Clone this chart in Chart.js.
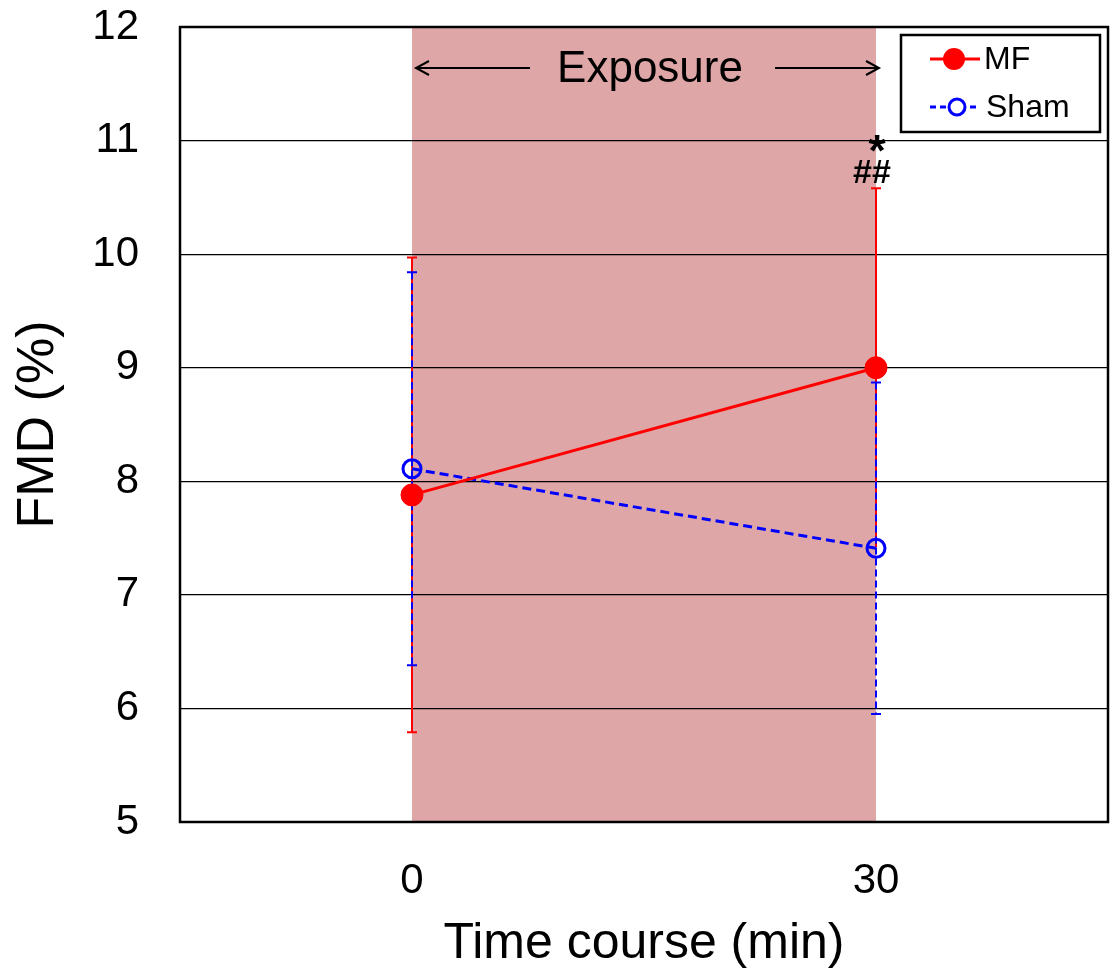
<!DOCTYPE html>
<html>
<head>
<meta charset="utf-8">
<script src="https://cdn.jsdelivr.net/npm/chart.js@4.4.0/dist/chart.umd.min.js"></script>
<style>
  html, body { margin: 0; padding: 0; background: #fff; overflow: hidden; }
  #wrap { width: 1111px; height: 974px; overflow: hidden; }
</style>
</head>
<body>
<div id="wrap"><canvas id="fmdChart" width="1120" height="974"></canvas></div>
<script>
// values
const timePoints = [0, 30];
const xTickValues = [0, 30];
const yTickValues = [5, 6, 7, 8, 9, 10, 11, 12];
const mfMean = [7.88, 9.0];
const mfSD = [2.09, 1.58];
const shamMean = [8.11, 7.41];
const shamSD = [1.73, 1.46];
const exposureStart = 0;
const exposureEnd = 30;

const FONT = '"Liberation Sans", Arial, sans-serif';

function toPoints(xs, ys) {
    return xs.map((x, i) => ({ x: x, y: ys[i] }));
}

// shaded exposure window, drawn before the grid so the grid lines stay on top
const shadePlugin = {
    id: 'shade',
    beforeDraw(chart) {
        const { ctx, chartArea, scales } = chart;
        const x0 = scales.x.getPixelForValue(exposureStart);
        const x1 = scales.x.getPixelForValue(exposureEnd);
        ctx.save();
        ctx.fillStyle = '#dea6a6';
        ctx.fillRect(x0, chartArea.top, x1 - x0, chartArea.bottom - chartArea.top);
        ctx.restore();
    }
};

// error bars: red solid first, blue dashed over it
const errorBarPlugin = {
    id: 'errorBars',
    beforeDatasetsDraw(chart) {
        const { ctx, scales } = chart;
        const groups = [
            { means: mfMean, sds: mfSD, color: '#ff0000', dash: [], caps: [[true, true], [true, false]] },
            { means: shamMean, sds: shamSD, color: '#0000ff', dash: [7, 4], caps: [[true, true], [true, true]] }
        ];
        groups.forEach(g => {
            timePoints.forEach((t, i) => {
                const px = scales.x.getPixelForValue(t);
                const top = scales.y.getPixelForValue(g.means[i] + g.sds[i]);
                const bot = scales.y.getPixelForValue(g.means[i] - g.sds[i]);
                ctx.save();
                ctx.strokeStyle = g.color;
                ctx.lineWidth = 2;
                ctx.setLineDash(g.dash);
                ctx.beginPath();
                ctx.moveTo(px, top);
                ctx.lineTo(px, bot);
                ctx.stroke();
                ctx.setLineDash([]);
                ctx.beginPath();
                if (g.caps[i][0]) { ctx.moveTo(px - 5, top); ctx.lineTo(px + 5, top); }
                if (g.caps[i][1]) { ctx.moveTo(px - 5, bot); ctx.lineTo(px + 5, bot); }
                ctx.stroke();
                ctx.restore();
            });
        });
    }
};

function arrow(ctx, xFrom, xTo, y) {
    const dir = Math.sign(xTo - xFrom);
    ctx.beginPath();
    ctx.moveTo(xFrom, y);
    ctx.lineTo(xTo, y);
    ctx.moveTo(xTo - dir * 13, y - 7);
    ctx.lineTo(xTo, y);
    ctx.lineTo(xTo - dir * 13, y + 7);
    ctx.stroke();
}

const overlayPlugin = {
    id: 'overlay',
    afterDraw(chart) {
        const { ctx, chartArea, scales } = chart;
        const x0 = scales.x.getPixelForValue(exposureStart);
        const x1 = scales.x.getPixelForValue(exposureEnd);
        ctx.save();

        // plot frame
        ctx.strokeStyle = '#000';
        ctx.lineWidth = 2.5;
        ctx.strokeRect(chartArea.left, chartArea.top, chartArea.right - chartArea.left, chartArea.bottom - chartArea.top);

        // Exposure label with arrows
        const ty = chartArea.top + 41;
        ctx.fillStyle = '#000';
        ctx.font = '44px ' + FONT;
        ctx.textAlign = 'center';
        ctx.textBaseline = 'middle';
        ctx.fillText('Exposure', 650, ty + 2);
        ctx.lineWidth = 2;
        arrow(ctx, 530, x0 + 4, ty);
        arrow(ctx, 775, x1 + 3, ty);

        // significance marks
        ctx.font = 'bold 44px ' + FONT;
        ctx.fillText('*', x1 + 1, scales.y.getPixelForValue(10.88));
        ctx.font = 'bold 34px ' + FONT;
        ctx.fillText('##', x1 - 4, scales.y.getPixelForValue(10.71));

        // legend box
        const lx = 901, ly = 35, lw = 199, lh = 97;
        ctx.fillStyle = '#fff';
        ctx.fillRect(lx, ly, lw, lh);
        ctx.lineWidth = 2.5;
        ctx.strokeRect(lx, ly, lw, lh);

        ctx.lineWidth = 3;
        ctx.strokeStyle = '#ff0000';
        ctx.beginPath(); ctx.moveTo(930, 59); ctx.lineTo(980, 59); ctx.stroke();
        ctx.fillStyle = '#ff0000';
        ctx.beginPath(); ctx.arc(954, 59, 11, 0, Math.PI * 2); ctx.fill();

        ctx.strokeStyle = '#0000ff';
        ctx.setLineDash([6, 4]);
        ctx.beginPath(); ctx.moveTo(930, 107); ctx.lineTo(977, 107); ctx.stroke();
        ctx.setLineDash([]);
        ctx.fillStyle = '#fff';
        ctx.beginPath(); ctx.arc(957, 107, 8, 0, Math.PI * 2); ctx.fill(); ctx.stroke();

        ctx.fillStyle = '#000';
        ctx.font = '32px ' + FONT;
        ctx.textAlign = 'left';
        ctx.fillText('MF', 984, 60);
        ctx.fillText('Sham', 986, 108);
        ctx.restore();
    }
};

new Chart(document.getElementById('fmdChart'), {
    type: 'line',
    data: {
        datasets: [
            {
                label: 'MF',
                data: toPoints(timePoints, mfMean),
                borderColor: '#ff0000',
                backgroundColor: '#ff0000',
                borderWidth: 3,
                pointRadius: 11,
                pointBackgroundColor: '#ff0000',
                pointBorderColor: '#ff0000',
                pointBorderWidth: 1
            },
            {
                label: 'Sham',
                data: toPoints(timePoints, shamMean),
                borderColor: '#0000ff',
                backgroundColor: '#0000ff',
                borderWidth: 3,
                borderDash: [9, 5],
                pointRadius: 9,
                pointBackgroundColor: 'rgba(0,0,0,0)',
                pointBorderColor: '#0000ff',
                pointBorderWidth: 3
            }
        ]
    },
    options: {
        responsive: false,
        animation: false,
        layout: { padding: { top: 27, right: 0, left: 0, bottom: 0 } },
        plugins: {
            legend: { display: false },
            tooltip: { enabled: false }
        },
        scales: {
            x: {
                type: 'linear',
                min: -15,
                max: 45,
                afterFit(scale) {
                    scale.height = 152;
                    scale.paddingLeft = 0;
                    scale.paddingRight = 0;
                },
                afterBuildTicks(scale) { scale.ticks = xTickValues.map(v => ({ value: v })); },
                grid: { display: false, drawTicks: false },
                border: { display: false },
                ticks: {
                    color: '#000',
                    padding: 34,
                    font: { family: FONT, size: 42 }
                },
                title: {
                    display: true,
                    text: 'Time course (min)',
                    color: '#000',
                    padding: { top: 0, bottom: 0 },
                    font: { family: FONT, size: 50 }
                }
            },
            y: {
                min: 5,
                max: 12,
                afterFit(scale) {
                    scale.width = 180;
                    scale.paddingTop = 0;
                    scale.paddingBottom = 0;
                },
                afterBuildTicks(scale) { scale.ticks = yTickValues.map(v => ({ value: v })); },
                grid: { color: '#000', lineWidth: 1.2, drawTicks: false },
                border: { display: false },
                ticks: {
                    color: '#000',
                    padding: 41,
                    font: { family: FONT, size: 42 }
                },
                title: {
                    display: true,
                    text: 'FMD (%)',
                    color: '#000',
                    padding: { top: 7, bottom: 10 },
                    font: { family: FONT, size: 52 }
                }
            }
        }
    },
    plugins: [shadePlugin, errorBarPlugin, overlayPlugin]
});
</script>
</body>
</html>
